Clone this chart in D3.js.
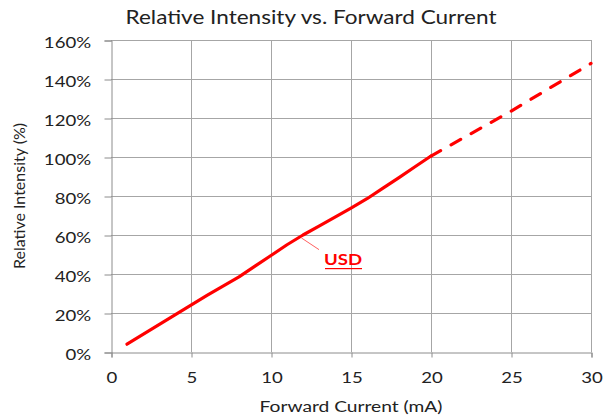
<!DOCTYPE html>
<html>
<head>
<meta charset="utf-8">
<script src="https://cdn.jsdelivr.net/npm/d3@7"></script>
<style>
  body { margin: 0; background: #fff; }
  svg text { font-family: Lato, "Open Sans", sans-serif; fill: #222; }
</style>
</head>
<body>
<svg id="chart" width="612" height="416"></svg>
<script>
// measured curve (solid) and extrapolated part (dashed)
const currentMeasured = [1, 2, 3, 4, 5, 6, 7, 8, 9, 10, 11, 12, 13, 14, 15, 16, 17, 18, 19, 20];
const intensityMeasured = [4, 9, 14, 19, 24, 29, 33.8, 38.5, 44, 49.5, 55, 60, 64.6, 69.2, 73.8, 78.6, 84, 89.4, 95, 100.5];
const currentExtra = [20, 25, 30];
const intensityExtra = [100.5, 123.5, 148];
const xTicks = [0, 5, 10, 15, 20, 25, 30];
const yTicks = [0, 20, 40, 60, 80, 100, 120, 140, 160];

const stretch = "scale(1.2,1)"; // reference text is drawn wide
const svg = d3.select("#chart");
const x = d3.scaleLinear().domain([0, 30]).range([111, 591]);
const y = d3.scaleLinear().domain([0, 160]).range([352, 40]);

// grid
svg.append("g")
  .selectAll("line")
  .data(xTicks.slice(1))
  .enter()
  .append("line")
  .attr("x1", (d) => x(d) + 0.5)
  .attr("x2", (d) => x(d) + 0.5)
  .attr("y1", y(160))
  .attr("y2", y(0))
  .attr("stroke", "#a6a6a6");
svg.append("g")
  .selectAll("line")
  .data(yTicks.slice(1))
  .enter()
  .append("line")
  .attr("x1", x(0))
  .attr("x2", x(30))
  .attr("y1", (d) => y(d) + 0.5)
  .attr("y2", (d) => y(d) + 0.5)
  .attr("stroke", "#a6a6a6");

// axes
const xAxis = svg.append("g")
  .attr("transform", `translate(0.5, ${y(0) + 0.5})`)
  .call(d3.axisBottom(x).tickValues(xTicks).tickSize(5).tickPadding(14));
const yAxis = svg.append("g")
  .attr("transform", `translate(${x(0) + 0.5}, 0.5)`)
  .call(d3.axisLeft(y).tickValues(yTicks).tickSize(7).tickPadding(10).tickFormat((d) => d + "%"));
[xAxis, yAxis].forEach((a) => {
  a.select(".domain").attr("stroke", "#8c8c8c");
  a.selectAll(".tick line").attr("stroke", "#8c8c8c");
  a.selectAll("text")
    .attr("font-size", 15.5)
    .attr("transform", stretch)
    .style("fill", "#222")
    .style("font-family", "Lato, 'Open Sans', sans-serif");
});
yAxis.selectAll("text").attr("dy", "0.42em");

// lines
const line = d3.line().x((d) => x(d[0])).y((d) => y(d[1]));
svg.append("path")
  .datum(d3.zip(currentMeasured, intensityMeasured))
  .attr("d", line)
  .attr("fill", "none")
  .attr("stroke", "#ff0000")
  .attr("stroke-width", 3.2)
  .attr("stroke-linecap", "round")
  .attr("stroke-linejoin", "round");
svg.append("path")
  .datum(d3.zip(currentExtra, intensityExtra))
  .attr("d", line)
  .attr("fill", "none")
  .attr("stroke", "#ff0000")
  .attr("stroke-width", 3.2)
  .attr("stroke-linecap", "round")
  .attr("stroke-dasharray", "11 12");

// label
svg.append("line")
  .attr("x1", x(11.9)).attr("y1", y(58.5))
  .attr("x2", x(13)).attr("y2", y(52.5))
  .attr("stroke", "#ff6060").attr("stroke-width", 1);
svg.append("text")
  .attr("transform", `translate(343, 265) ${stretch}`)
  .attr("text-anchor", "middle")
  .attr("font-size", 15.5).attr("font-weight", "bold")
  .style("fill", "#ff0000")
  .text("USD");
svg.append("rect")
  .attr("x", 325).attr("y", 268)
  .attr("width", 37).attr("height", 1.2)
  .attr("fill", "#ff0000");

// titles
svg.append("text")
  .attr("transform", `translate(311, 24) ${stretch}`)
  .attr("text-anchor", "middle")
  .attr("font-size", 18.8)
  .text("Relative Intensity vs. Forward Current");
svg.append("text")
  .attr("transform", `translate(351, 412) ${stretch}`)
  .attr("text-anchor", "middle")
  .attr("font-size", 16)
  .text("Forward Current (mA)");
svg.append("text")
  .attr("transform", "translate(25, 196) rotate(-90)")
  .attr("text-anchor", "middle")
  .attr("font-size", 16)
  .text("Relative Intensity (%)");
</script>
</body>
</html>
